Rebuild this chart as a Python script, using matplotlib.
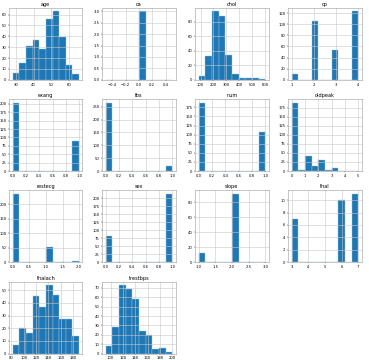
import numpy as np
import matplotlib
matplotlib.use("Agg")
import matplotlib.pyplot as plt

# Histogram data: counts per 10 equal bins over each column's range
age_counts = [6, 15, 31, 37, 28, 56, 63, 39, 14, 5]
ca_counts = [0, 0, 0, 0, 0, 3, 0, 0, 0, 0]
chol_counts = [5, 32, 94, 87, 34, 8, 2, 3, 2, 1]
cp_counts = [11, 0, 0, 106, 0, 0, 54, 0, 0, 123]
exang_counts = [204, 0, 0, 0, 0, 0, 0, 0, 0, 89]
fbs_counts = [266, 0, 0, 0, 0, 0, 0, 0, 0, 20]
num_counts = [188, 0, 0, 0, 0, 0, 0, 0, 0, 106]
oldpeak_counts = [189, 3, 41, 15, 31, 3, 8, 0, 1, 1]
restecg_counts = [235, 0, 0, 0, 0, 52, 0, 0, 0, 6]
sex_counts = [81, 0, 0, 0, 0, 0, 0, 0, 0, 213]
slope_counts = [12, 0, 0, 0, 0, 91, 0, 0, 0, 1]
thal_counts = [7, 0, 0, 0, 0, 0, 0, 10, 0, 11]
thalach_counts = [7, 20, 16, 45, 37, 54, 46, 27, 27, 14]
trestbps_counts = [8, 28, 73, 69, 58, 24, 20, 5, 6, 2]

names = ["age", "ca", "chol", "cp", "exang", "fbs", "num", "oldpeak",
         "restecg", "sex", "slope", "thal", "thalach", "trestbps"]
ranges = {"age": (28, 66), "ca": (-0.5, 0.5), "chol": (85, 603), "cp": (1, 4),
          "exang": (0, 1), "fbs": (0, 1), "num": (0, 1), "oldpeak": (0, 5),
          "restecg": (0, 2), "sex": (0, 1), "slope": (1, 3), "thal": (3, 7),
          "thalach": (82, 190), "trestbps": (92, 200)}
counts = {"age": age_counts, "ca": ca_counts, "chol": chol_counts, "cp": cp_counts,
          "exang": exang_counts, "fbs": fbs_counts, "num": num_counts,
          "oldpeak": oldpeak_counts, "restecg": restecg_counts, "sex": sex_counts,
          "slope": slope_counts, "thal": thal_counts, "thalach": thalach_counts,
          "trestbps": trestbps_counts}

fig, axes = plt.subplots(4, 4, figsize=(3.69, 3.6), dpi=100)
fig.subplots_adjust(left=0.025, right=0.98, bottom=0.018, top=0.978,
                    wspace=0.27, hspace=0.27)

for i, ax in enumerate(axes.flat):
    if i >= len(names):
        ax.remove()
        continue
    n = names[i]
    lo, hi = ranges[n]
    edges = np.linspace(lo, hi, 11)
    centers = (edges[:-1] + edges[1:]) / 2
    ax.hist(centers, bins=edges, weights=counts[n], color="#1f77b4",
            edgecolor="#9cc3e6", linewidth=0.3)
    ax.set_title(n, fontsize=3.6, pad=1.5)
    ax.grid(True, color="#c8c8c8", linewidth=0.4)
    ax.tick_params(labelsize=2.7, length=1, width=0.3, pad=1)
    for s in ax.spines.values():
        s.set_linewidth(0.4)
        s.set_color("#999999")

fig.savefig("out.png", dpi=100)
